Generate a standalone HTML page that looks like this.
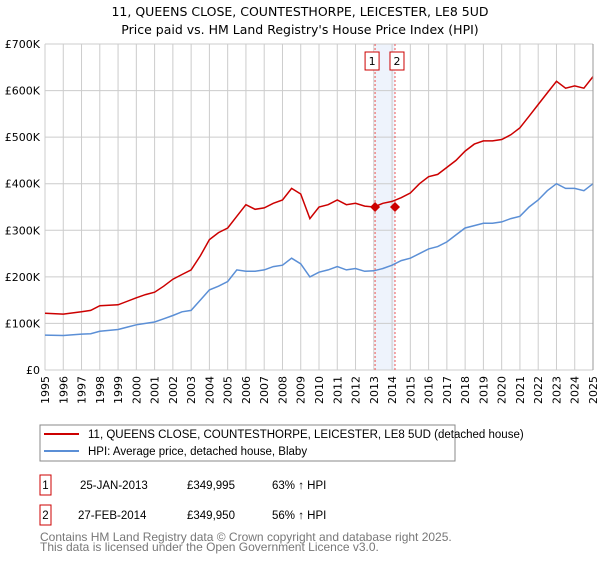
<!DOCTYPE html>
<html><head><meta charset="utf-8"><style>
body{margin:0;background:#fff;font-family:"Liberation Sans",sans-serif}
svg text{font-family:"DejaVu Sans","Liberation Sans",sans-serif}
svg text.lib{font-family:"Liberation Sans",sans-serif}
</style></head><body>
<svg id="c" width="600" height="560" xmlns="http://www.w3.org/2000/svg">
<text x="300" y="16" text-anchor="middle" font-size="12.5">11, QUEENS CLOSE, COUNTESTHORPE, LEICESTER, LE8 5UD</text>
<text x="300" y="34" text-anchor="middle" font-size="12.5">Price paid vs. HM Land Registry's House Price Index (HPI)</text>
<g id="grid"></g>
<g id="marks"></g>
<g id="axes"></g>
<rect x="40" y="425" width="415" height="36" fill="none" stroke="#888"/>
<line x1="44" y1="434" x2="79" y2="434" stroke="#cc0000" stroke-width="2"/>
<text class="lib" x="88" y="438" font-size="11.5">11, QUEENS CLOSE, COUNTESTHORPE, LEICESTER, LE8 5UD (detached house)</text>
<line x1="44" y1="451" x2="79" y2="451" stroke="#5b8fd6" stroke-width="2"/>
<text class="lib" x="88" y="455" font-size="11.5">HPI: Average price, detached house, Blaby</text>
<g font-size="11.5">
<rect x="40" y="475" width="11" height="20" fill="none" stroke="#cc0000"/>
<text class="lib" x="45.5" y="489" text-anchor="middle">1</text>
<text class="lib" x="80" y="489">25-JAN-2013</text>
<text class="lib" x="187" y="489">£349,995</text>
<text class="lib" x="272" y="489">63% ↑ HPI</text>
<rect x="40" y="505" width="11" height="20" fill="none" stroke="#cc0000"/>
<text class="lib" x="45.5" y="519" text-anchor="middle">2</text>
<text class="lib" x="78" y="519">27-FEB-2014</text>
<text class="lib" x="187" y="519">£349,950</text>
<text class="lib" x="272" y="519">56% ↑ HPI</text>
</g>
<text class="lib" x="40" y="541" font-size="12" fill="#777">Contains HM Land Registry data © Crown copyright and database right 2025.</text>
<text class="lib" x="40" y="551" font-size="12" fill="#777">This data is licensed under the Open Government Licence v3.0.</text>
</svg>
<script>
const yearTicks=[1995,1996,1997,1998,1999,2000,2001,2002,2003,2004,2005,2006,2007,2008,2009,2010,2011,2012,2013,2014,2015,2016,2017,2018,2019,2020,2021,2022,2023,2024,2025];
const priceTicks=[0,100,200,300,400,500,600,700];
const priceTickLabels=["£0","£100K","£200K","£300K","£400K","£500K","£600K","£700K"];
const dates=[1995,1996,1997,1997.5,1998,1999,2000,2000.5,2001,2001.5,2002,2002.5,2003,2003.5,2004,2004.5,2005,2005.5,2006,2006.5,2007,2007.5,2008,2008.5,2009,2009.5,2010,2010.5,2011,2011.5,2012,2012.5,2013,2013.5,2014,2014.5,2015,2015.5,2016,2016.5,2017,2017.5,2018,2018.5,2019,2019.5,2020,2020.5,2021,2021.5,2022,2022.5,2023,2023.5,2024,2024.5,2025];
const hpiValues=[75,74,77,78,83,87,97,100,103,110,117,125,128,150,172,180,190,215,212,212,215,222,225,240,228,200,210,215,222,215,218,212,213,218,225,235,240,250,260,265,275,290,305,310,315,315,318,325,330,350,365,385,400,390,390,385,400];
const propValues=[122,120,125,128,138,140,155,162,167,180,195,205,215,245,280,295,305,330,355,345,348,358,365,390,378,325,350,355,365,355,358,352,350,358,362,370,380,400,415,420,435,450,470,485,492,492,495,505,520,545,570,595,620,605,610,605,630];
const saleDates=[2013.07,2014.16];
const salePrices=[350,350];
const saleLabels=["1","2"];
const NS="http://www.w3.org/2000/svg";
const X0=45,X1=593,Y0=370,Y1=44;
const xs=d=>X0+(d-1995)/(2025-1995)*(X1-X0);
const ys=v=>Y0-v/700*(Y0-Y1);
function mk(tag,attrs,parent){const e=document.createElementNS(NS,tag);for(const k in attrs)e.setAttribute(k,attrs[k]);parent.appendChild(e);return e;}
const grid=document.getElementById('grid'),marks=document.getElementById('marks'),axes=document.getElementById('axes');
const band=mk('rect',{x:xs(saleDates[0]),y:Y1,width:xs(saleDates[1])-xs(saleDates[0]),height:Y0-Y1,fill:'#eef3fc'},grid);


yearTicks.forEach(y=>{
 const l=mk('line',{x1:xs(y),x2:xs(y),y1:Y1,y2:Y0,stroke:'#cccccc'},grid);
 
 
 const t=mk('text',{x:0,y:0,'font-size':11,'text-anchor':'end',transform:`translate(${xs(y)+4},${Y0+6}) rotate(-90)`},axes);
 t.textContent=y;
 
 
});
priceTicks.forEach((v,i)=>{
 const l=mk('line',{x1:X0,x2:X1,y1:ys(v),y2:ys(v),stroke:'#cccccc'},grid);
 
 
 const t=mk('text',{x:40,y:ys(v)+4,'font-size':11,'text-anchor':'end'},axes);
 t.textContent=priceTickLabels[i];
 
 
});
saleDates.forEach((d,i)=>{
 const l=mk('line',{x1:xs(d),x2:xs(d),y1:Y1,y2:Y0,stroke:'#ee5555','stroke-dasharray':'2,2'},grid);
 
 
});
function path(vals,color,name){
 const p=mk('path',{d:dates.map((d,i)=>(i?'L':'M')+xs(d).toFixed(1)+','+ys(vals[i]).toFixed(1)).join(''),fill:'none',stroke:color,'stroke-width':1.5},marks);
 
 
}
path(hpiValues,'#5b8fd6','hpi-line');
path(propValues,'#cc0000','property-price-line');
saleDates.forEach((d,i)=>{
 const cx=xs(d),cy=ys(salePrices[i]);
 const m=mk('polygon',{points:`${cx},${cy-5} ${cx+5},${cy} ${cx},${cy+5} ${cx-5},${cy}`,fill:'#cc0000'},marks);
 
 
 const r=mk('rect',{x:(i===0?cx-10:cx-5),y:52,width:14,height:18,fill:'#fff',stroke:'#cc0000'},marks);
 
 
 const t=mk('text',{x:(i===0?cx-3:cx+2),y:65,'font-size':11,'text-anchor':'middle'},marks);
 t.textContent=saleLabels[i];
 
 
});
const ax=mk('line',{x1:X1,x2:X1,y1:Y1,y2:Y0,stroke:'#999'},axes);


</script>
</body></html>
